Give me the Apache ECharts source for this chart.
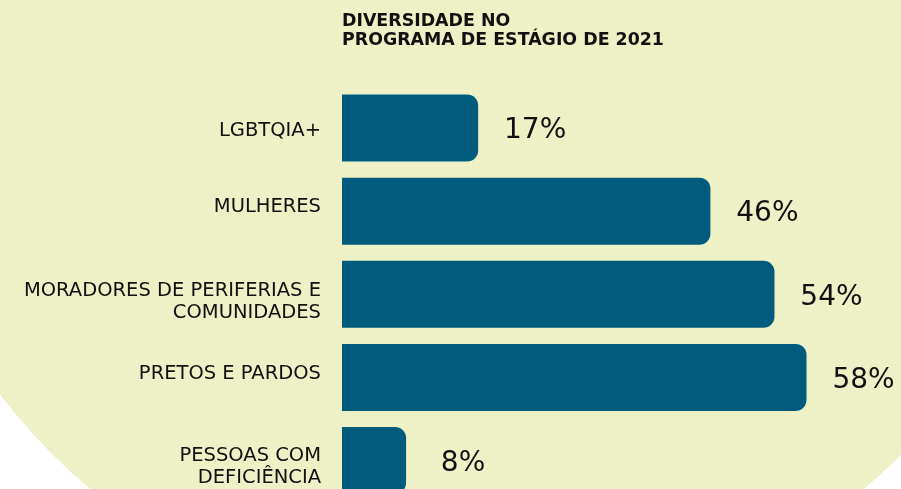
<!DOCTYPE html>
<html>
<head>
<meta charset="utf-8">
<script src="https://cdn.jsdelivr.net/npm/echarts@6/dist/echarts.min.js"></script>
<style>
html,body{margin:0;padding:0;background:#ffffff;}
#chart{width:901px;height:489px;}
</style>
</head>
<body>
<div id="chart"></div>
<script>
const titleText = 'DIVERSIDADE NO\nPROGRAMA DE ESTÁGIO DE 2021';
const categories = ['LGBTQIA+', 'MULHERES', 'MORADORES DE PERIFERIAS E\nCOMUNIDADES', 'PRETOS E PARDOS', 'PESSOAS COM\nDEFICIÊNCIA'];
const values = [17, 46, 54, 58, 8];

// layout only: vertical nudge of each category label (px, + = down)
const labelNudge = [2.5, -4, 7.5, -3, 6.5];

const baseFont = {fontFamily: 'DejaVu Sans', fontSize: 19.5, lineHeight: 22, color: '#111111', align: 'right'};
const rich = {n: Object.assign({}, baseFont)};
labelNudge.forEach((n, i) => {
  rich['s' + i] = {fontSize: 1, lineHeight: Math.abs(2 * n), align: 'right'};
});

function labelFormatter(value, index) {
  const lines = value.split('\n').map(ln => '{n|' + ln + '}');
  const n = labelNudge[index];
  if (n > 0) lines.unshift('{s' + index + '| }');
  else if (n < 0) lines.push('{s' + index + '| }');
  return lines.join('\n');
}

const chart = echarts.init(document.getElementById('chart'), null, {renderer: 'canvas'});
chart.setOption({
  backgroundColor: '#ffffff',
  animation: false,
  graphic: [{
    type: 'circle',
    z: -10,
    silent: true,
    shape: {cx: 477, cy: 29, r: 601},
    style: {fill: '#EEF0C6'}
  }],
  title: {
    text: titleText,
    left: 342,
    top: 12,
    padding: 0,
    textStyle: {
      fontFamily: 'DejaVu Sans',
      fontWeight: 'bold',
      fontSize: 17.4,
      lineHeight: 19,
      color: '#111111'
    }
  },
  grid: {left: 342, top: 128, width: 561, height: 334, containLabel: false},
  xAxis: {
    type: 'value',
    min: 0,
    max: 69.8,
    show: false
  },
  yAxis: {
    type: 'category',
    data: categories,
    inverse: true,
    boundaryGap: false,
    axisLine: {show: false},
    axisTick: {show: false},
    splitLine: {show: false},
    axisLabel: {
      margin: 21,
      fontFamily: 'DejaVu Sans',
      fontSize: 19.5,
      lineHeight: 22,
      color: '#111111',
      align: 'right',
      formatter: labelFormatter,
      rich: rich
    }
  },
  series: [{
    type: 'bar',
    data: values,
    barWidth: 67,
    itemStyle: {color: '#015B7D', borderRadius: [0, 11, 11, 0]},
    label: {
      show: true,
      position: 'right',
      distance: 57,
      align: 'center',
      offset: [0, 3],
      formatter: '{c}%',
      fontFamily: 'DejaVu Sans',
      fontSize: 28,
      color: '#111111'
    }
  }]
});
</script>
</body>
</html>
